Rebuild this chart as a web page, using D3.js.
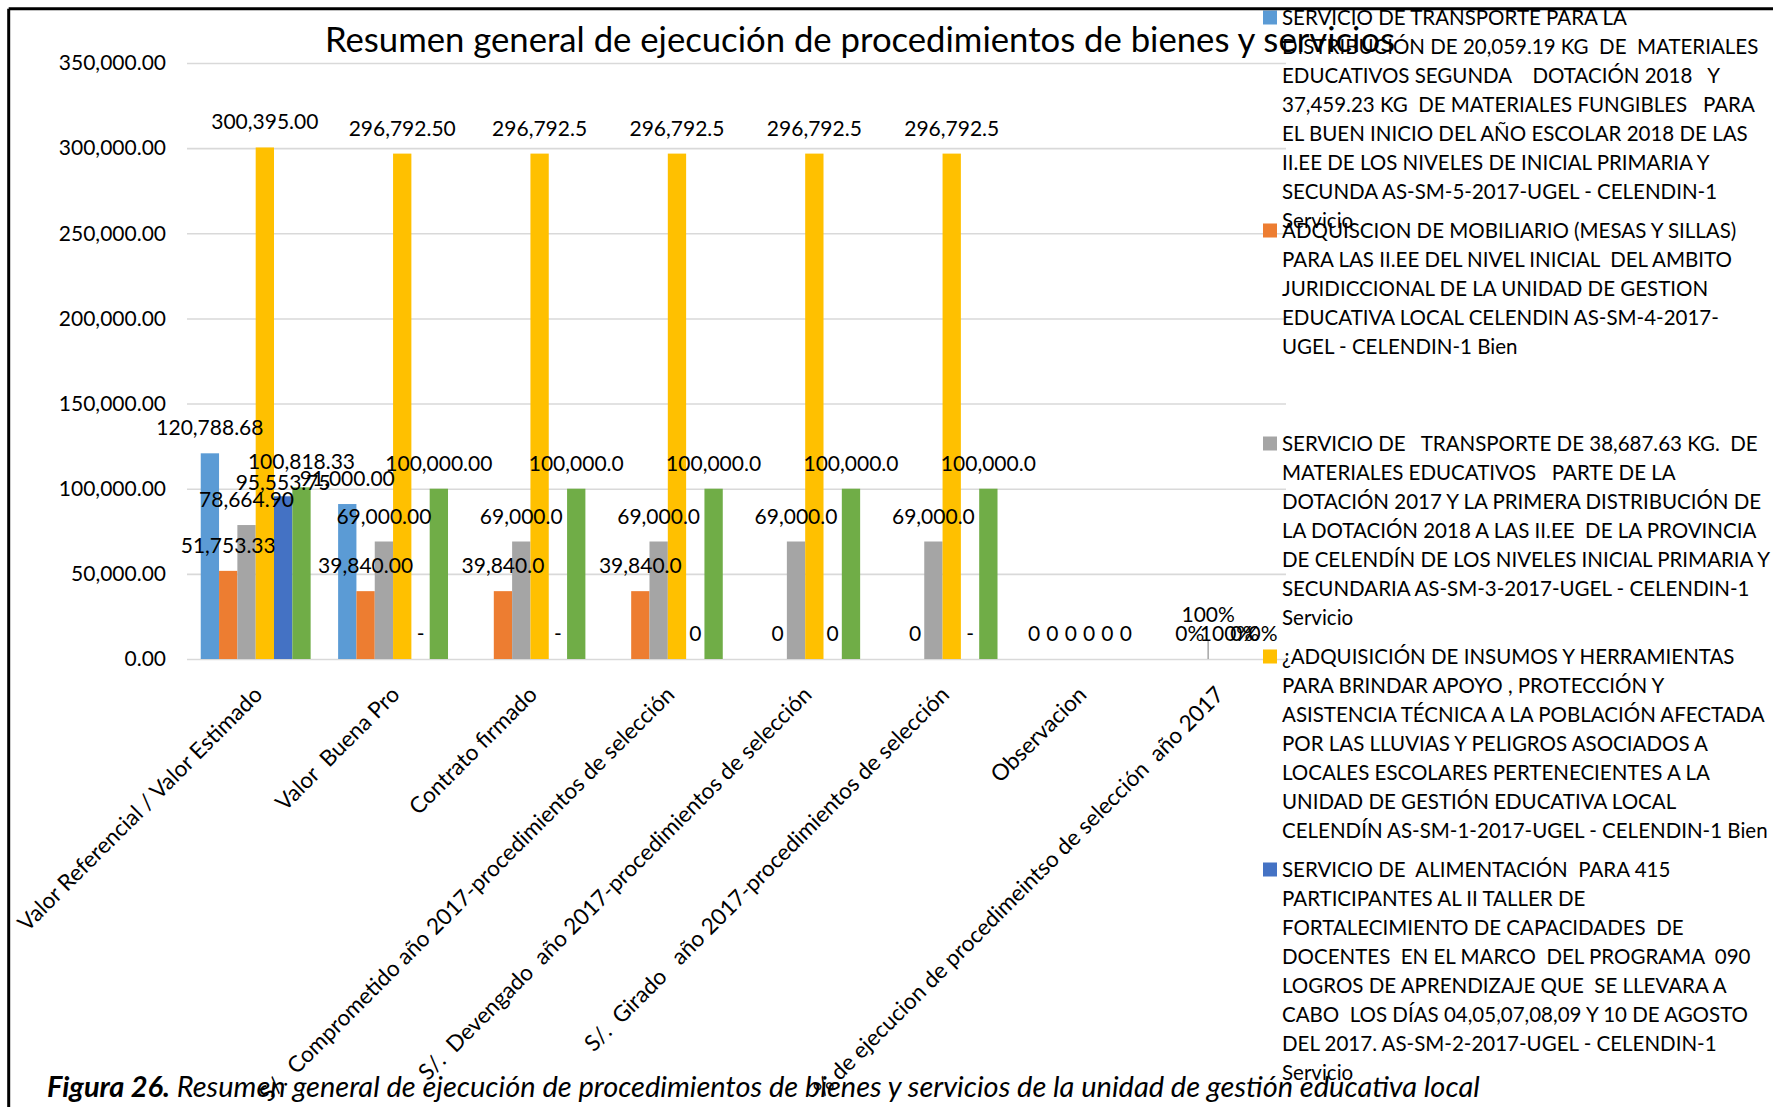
<!DOCTYPE html>
<html>
<head>
<meta charset="utf-8">
<script src="https://cdn.jsdelivr.net/npm/d3@7"></script>
<style>
body { margin: 0; background: #fff; }
text { font-family: Lato, "Open Sans", sans-serif; fill: #000; white-space: pre; }
</style>
</head>
<body>
<script>
var categories = [
    "Valor Referencial / Valor Estimado",
    "Valor  Buena Pro",
    "Contrato firmado",
    "S/.  Comprometido año 2017-procedimientos de selección",
    "S/.  Devengado  año 2017-procedimientos de selección",
    "S/.  Girado   año 2017-procedimientos de selección",
    "Observacion",
    "% de ejecucion de procedimeintso de selección  año 2017"
];

var colors = ["#5B9BD5", "#ED7D31", "#A5A5A5", "#FFC000", "#4472C4", "#70AD47"];

// values per series (null = empty cell)
var serie1 = [120788.68, 91000.00, null, null, null, null, 0, null];
var serie2 = [51753.33, 39840.00, 39840.0, 39840.0, 0, 0, 0, 0];
var serie3 = [78664.90, 69000.00, 69000.0, 69000.0, 69000.0, 69000.0, 0, 1];
var serie4 = [300395.00, 296792.50, 296792.5, 296792.5, 296792.5, 296792.5, 0, 1];
var serie5 = [95553.75, 0, 0, 0, 0, 0, 0, 0];
var serie6 = [100818.33, 100000.00, 100000.0, 100000.0, 100000.0, 100000.0, 0, 0];

// data labels as shown in the sheet
var labels1 = ["120,788.68", "91,000.00", "", "", "", "", "0", ""];
var labels2 = ["51,753.33", "39,840.00", "39,840.0", "39,840.0", "0", "0", "0", "0%"];
var labels3 = ["78,664.90", "69,000.00", "69,000.0", "69,000.0", "69,000.0", "69,000.0", "0", "100%"];
var labels4 = ["300,395.00", "296,792.50", "296,792.5", "296,792.5", "296,792.5", "296,792.5", "0", "100%"];
var labels5 = ["95,553.75", "-", "-", "0", "0", "-", "0", "0%"];
var labels6 = ["100,818.33", "100,000.00", "100,000.0", "100,000.0", "100,000.0", "100,000.0", "0", "0%"];

var yTicks = [0, 50000, 100000, 150000, 200000, 250000, 300000, 350000];

var legendLines = [
    ["SERVICIO DE TRANSPORTE PARA LA",
     "DISTRIBUCIÓN DE 20,059.19 KG  DE  MATERIALES",
     "EDUCATIVOS SEGUNDA    DOTACIÓN 2018   Y",
     "37,459.23 KG  DE MATERIALES FUNGIBLES   PARA",
     "EL BUEN INICIO DEL AÑO ESCOLAR 2018 DE LAS",
     "II.EE DE LOS NIVELES DE INICIAL PRIMARIA Y",
     "SECUNDA AS-SM-5-2017-UGEL - CELENDIN-1",
     "Servicio"],
    ["ADQUISCION DE MOBILIARIO (MESAS Y SILLAS)",
     "PARA LAS II.EE DEL NIVEL INICIAL  DEL AMBITO",
     "JURIDICCIONAL DE LA UNIDAD DE GESTION",
     "EDUCATIVA LOCAL CELENDIN AS-SM-4-2017-",
     "UGEL - CELENDIN-1 Bien"],
    ["SERVICIO DE   TRANSPORTE DE 38,687.63 KG.  DE",
     "MATERIALES EDUCATIVOS   PARTE DE LA",
     "DOTACIÓN 2017 Y LA PRIMERA DISTRIBUCIÓN DE",
     "LA DOTACIÓN 2018 A LAS II.EE  DE LA PROVINCIA",
     "DE CELENDÍN DE LOS NIVELES INICIAL PRIMARIA Y",
     "SECUNDARIA AS-SM-3-2017-UGEL - CELENDIN-1",
     "Servicio"],
    ["¿ADQUISICIÓN DE INSUMOS Y HERRAMIENTAS",
     "PARA BRINDAR APOYO , PROTECCIÓN Y",
     "ASISTENCIA TÉCNICA A LA POBLACIÓN AFECTADA",
     "POR LAS LLUVIAS Y PELIGROS ASOCIADOS A",
     "LOCALES ESCOLARES PERTENECIENTES A LA",
     "UNIDAD DE GESTIÓN EDUCATIVA LOCAL",
     "CELENDÍN AS-SM-1-2017-UGEL - CELENDIN-1 Bien"],
    ["SERVICIO DE  ALIMENTACIÓN  PARA 415",
     "PARTICIPANTES AL II TALLER DE",
     "FORTALECIMIENTO DE CAPACIDADES  DE",
     "DOCENTES  EN EL MARCO  DEL PROGRAMA  090",
     "LOGROS DE APRENDIZAJE QUE  SE LLEVARA A",
     "CABO  LOS DÍAS 04,05,07,08,09 Y 10 DE AGOSTO",
     "DEL 2017. AS-SM-2-2017-UGEL - CELENDIN-1",
     "Servicio"]
];

var title = "Resumen general de ejecución de procedimientos de bienes y servicios";
var captionBold = "Figura 26.";
var captionText = " Resumen general de ejecución de procedimientos de bienes y servicios de la unidad de gestión educativa local";

var series = [serie1, serie2, serie3, serie4, serie5, serie6];
var seriesLabels = [labels1, labels2, labels3, labels4, labels5, labels6];

var width = 1773, height = 1107;
var fs = 21;
var legendFs = 20.5;
var catFs = 22.5;

var svg = d3.select("body")
    .append("svg")
    .attr("width", width)
    .attr("height", height);

var plotLeft = 187, plotRight = 1286, plotBottom = 659, plotTop = 63;

var y = d3.scaleLinear()
    .domain([0, 350000])
    .range([plotBottom, plotTop]);

var x0 = d3.scaleBand()
    .domain(categories)
    .range([plotLeft, plotRight]);

var x1 = d3.scaleBand()
    .domain(d3.range(series.length))
    .range([0, x0.bandwidth()])
    .paddingOuter(0.75);

// title
svg.append("text")
    .attr("x", 860)
    .attr("y", 52)
    .attr("text-anchor", "middle")
    .style("font-size", "34.7px")
    .text(title);

// y axis with gridlines
var yAxis = svg.append("g")
    .attr("transform", "translate(" + plotLeft + ",0)")
    .call(d3.axisLeft(y)
        .tickValues(yTicks)
        .tickSize(-(plotRight - plotLeft))
        .tickPadding(21)
        .tickFormat(d3.format(",.2f")));
yAxis.select(".domain").remove();
yAxis.selectAll("line").attr("stroke", "#d9d9d9").attr("stroke-width", 1.6);
yAxis.selectAll("text")
    .attr("fill", "#000")
    .style("font-size", fs + "px")
    .style("font-family", "Lato, 'Open Sans', sans-serif");

// bars
for (var s = 0; s < series.length; s++) {
    svg.append("g")
        .selectAll("rect")
        .data(series[s])
        .enter()
        .append("rect")
        .attr("x", function (d, i) { return x0(categories[i]) + x1(s); })
        .attr("y", function (d) { return y(d || 0); })
        .attr("width", x1.bandwidth())
        .attr("height", function (d) { return plotBottom - y(d || 0); })
        .attr("fill", colors[s]);
}

// x axis labels
var xAxis = svg.append("g")
    .attr("transform", "translate(0," + plotBottom + ")")
    .call(d3.axisBottom(x0).tickSize(0));
xAxis.select(".domain").remove();
xAxis.selectAll("text")
    .attr("fill", "#000")
    .attr("x", 0)
    .attr("y", 0)
    .attr("dy", null)
    .attr("text-anchor", "end")
    .attr("transform", "translate(8,37) rotate(-45)")
    .style("font-size", catFs + "px")
    .style("font-family", "Lato, 'Open Sans', sans-serif");

// data labels (two of them were dragged by hand in the sheet)
var nudge = { "2-7": -19, "4-0": 12 };
var labelGap = 18;
for (var s = 0; s < series.length; s++) {
    seriesLabels[s].forEach(function (t, i) {
        if (t === "") return;
        var cx = x0(categories[i]) + x1(s) + x1.bandwidth() / 2;
        var barTop = y(series[s][i] || 0);
        var shift = nudge[s + "-" + i] || 0;
        if (shift < 0) {
            svg.append("line")
                .attr("x1", cx).attr("x2", cx)
                .attr("y1", barTop - labelGap).attr("y2", barTop)
                .attr("stroke", "#a6a6a6")
                .attr("stroke-width", 1.5);
        }
        svg.append("text")
            .attr("x", cx)
            .attr("y", barTop - labelGap + shift)
            .attr("text-anchor", "middle")
            .style("font-size", fs + "px")
            .text(t);
    });
}

// legend
var legend = svg.append("g");
var lineH = 29, entryH = 213, legendTop = 24.5;
legendLines.forEach(function (lines, k) {
    var by = legendTop + k * entryH;
    legend.append("rect")
        .attr("x", 1263)
        .attr("y", by - 14)
        .attr("width", 14)
        .attr("height", 14)
        .attr("fill", colors[k]);
    legend.append("g")
        .selectAll("text")
        .data(lines)
        .enter()
        .append("text")
        .attr("x", 1282)
        .attr("y", function (d, j) { return by + j * lineH; })
        .style("font-size", legendFs + "px")
        .text(function (d) { return d; });
});

// frame of the chart object
svg.append("rect")
    .attr("x", 0).attr("y", 0)
    .attr("width", width).attr("height", 8)
    .attr("fill", "#fff");
svg.append("line")
    .attr("x1", 8.7).attr("x2", width)
    .attr("y1", 8.7).attr("y2", 8.7)
    .attr("stroke", "#000").attr("stroke-width", 3);
svg.append("line")
    .attr("x1", 8.7).attr("x2", 8.7)
    .attr("y1", 8.7).attr("y2", height)
    .attr("stroke", "#000").attr("stroke-width", 3);

// figure caption under the chart
var cap = svg.append("text")
    .attr("x", 47)
    .attr("y", 1097)
    .style("font-size", "29px")
    .style("font-style", "italic");
cap.append("tspan").style("font-weight", "bold").text(captionBold);
cap.append("tspan").text(captionText);
</script>
</body>
</html>
